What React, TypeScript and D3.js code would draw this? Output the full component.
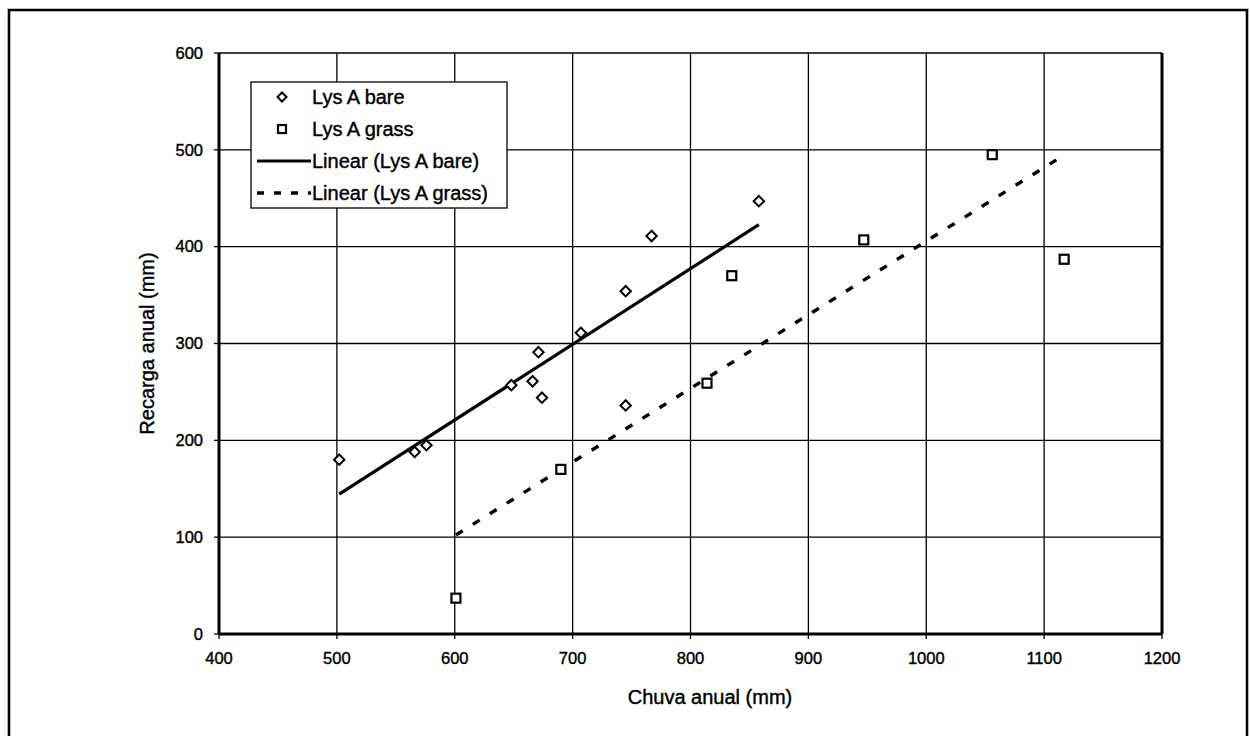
import React from 'react';
import * as d3 from 'd3';

// values
const bareRain: number[] = [502, 566, 576, 648, 666, 671, 674, 707, 745, 745, 767, 858];
const bareRecharge: number[] = [180, 188, 195, 257, 261, 291, 244, 311, 236, 354, 411, 447];
const grassRain: number[] = [601, 690, 814, 835, 947, 1056, 1117];
const grassRecharge: number[] = [37, 170, 259, 370, 407, 495, 387];

const xTicks: number[] = [400, 500, 600, 700, 800, 900, 1000, 1100, 1200];
const yTicks: number[] = [0, 100, 200, 300, 400, 500, 600];

const legendLabels: string[] = ['Lys A bare', 'Lys A grass', 'Linear (Lys A bare)', 'Linear (Lys A grass)'];

const width = 1250;
const height = 736;
const font = '"Liberation Sans", Arial, sans-serif';

const x = d3.scaleLinear().domain([400, 1200]).range([219, 1162]);
const y = d3.scaleLinear().domain([0, 600]).range([634, 53]);

// least squares fit, drawn from smallest to largest rain value
const fit = (xs: number[], ys: number[]) => {
  const mx = d3.mean(xs) as number;
  const my = d3.mean(ys) as number;
  let sxy = 0;
  let sxx = 0;
  xs.forEach((v, i) => {
    sxy += (v - mx) * (ys[i] - my);
    sxx += (v - mx) * (v - mx);
  });
  const b = sxy / sxx;
  const a = my - b * mx;
  const [x0, x1] = d3.extent(xs) as [number, number];
  return [[x0, a + b * x0], [x1, a + b * x1]] as [number, number][];
};

const line = d3.line<[number, number]>().x(d => x(d[0])).y(d => y(d[1]));

const diamond = (cx: number, cy: number, r: number) =>
  `M${cx},${cy - r}L${cx + r},${cy}L${cx},${cy + r}L${cx - r},${cy}Z`;

export default function App() {
  const bareFit = fit(bareRain, bareRecharge);
  const grassFit = fit(grassRain, grassRecharge);
  const [left, right] = x.range();
  const [bottom, top] = y.range();
  // scanned text looks heavy, thicken it a little
  const ink = { stroke: '#000', strokeWidth: 0.4 };

  return (
    <svg width={width} height={height} style={{ position: 'absolute', left: 0, top: 0, background: '#fff' }}
      fontFamily={font}>
      {/* outer frame */}
      <path d={`M9,${height}V10H1247V${height}`} fill="none" stroke="#000" strokeWidth={2.6} />

      {/* grid */}
      {xTicks.slice(1, -1).map(t => (
        <line key={'gx' + t} x1={x(t)} x2={x(t)} y1={top} y2={bottom} stroke="#000" strokeWidth={1.3} />
      ))}
      {yTicks.slice(1, -1).map(t => (
        <line key={'gy' + t} x1={left} x2={right} y1={y(t)} y2={y(t)} stroke="#000" strokeWidth={1.3} />
      ))}
      <line x1={left} x2={right} y1={top} y2={top} stroke="#000" strokeWidth={1.6} />
      <line x1={left} x2={left} y1={top} y2={bottom} stroke="#000" strokeWidth={3} />
      <line x1={right} x2={right} y1={top} y2={bottom} stroke="#000" strokeWidth={3} />
      <line x1={left} x2={right} y1={bottom} y2={bottom} stroke="#000" strokeWidth={3} />

      {/* ticks and labels */}
      {yTicks.map(t => (
        <g key={'ty' + t}>
          <line x1={left - 5} x2={left} y1={y(t)} y2={y(t)} stroke="#000" strokeWidth={1.3} />
          <text x={203} y={y(t)} dy="0.35em" textAnchor="end" fontSize={16.5} {...ink}>{t}</text>
        </g>
      ))}
      {xTicks.map(t => (
        <g key={'tx' + t}>
          <line x1={x(t)} x2={x(t)} y1={bottom} y2={bottom + 5} stroke="#000" strokeWidth={1.3} />
          <text x={x(t)} y={664} textAnchor="middle" fontSize={16.5} {...ink}>{t}</text>
        </g>
      ))}

      {/* axis titles */}
      <text x={710} y={704} textAnchor="middle" fontSize={20} {...ink}>Chuva anual (mm)</text>
      <text transform={`translate(154,${(top + bottom) / 2}) rotate(-90)`} textAnchor="middle" fontSize={20} {...ink}>
        Recarga anual (mm)
      </text>

      {/* trend lines */}
      <path d={line(bareFit) || ''} fill="none" stroke="#000" strokeWidth={3.2} />
      <path d={line(grassFit) || ''} fill="none" stroke="#000" strokeWidth={3.4} strokeDasharray="8,12" />

      {/* points */}
      {bareRain.map((v, i) => (
        <path key={'b' + i} d={diamond(x(v), y(bareRecharge[i]), 5.2)} fill="#fff" stroke="#000" strokeWidth={2} />
      ))}
      {grassRain.map((v, i) => (
        <rect key={'g' + i} x={x(v) - 4.5} y={y(grassRecharge[i]) - 4.5} width={9} height={9}
          fill="#fff" stroke="#000" strokeWidth={2.2} />
      ))}

      {/* legend */}
      <rect x={251} y={82} width={256} height={126} fill="#fff" stroke="#000" strokeWidth={1.3} />
      {legendLabels.map((lab, i) => {
        const cy = 97 + i * 32;
        return (
          <g key={'l' + i}>
            {i === 0 && <path d={diamond(282, cy, 4.5)} fill="#fff" stroke="#000" strokeWidth={2} />}
            {i === 1 && <rect x={278} y={cy - 4} width={8} height={8} fill="#fff" stroke="#000" strokeWidth={2.2} />}
            {i === 2 && <line x1={257} x2={311} y1={cy} y2={cy} stroke="#000" strokeWidth={3.2} />}
            {i === 3 && <line x1={257} x2={311} y1={cy} y2={cy} stroke="#000" strokeWidth={3.4} strokeDasharray="7,10" />}
            <text x={312} y={cy} dy="0.36em" fontSize={20} {...ink}>{lab}</text>
          </g>
        );
      })}
    </svg>
  );
}
